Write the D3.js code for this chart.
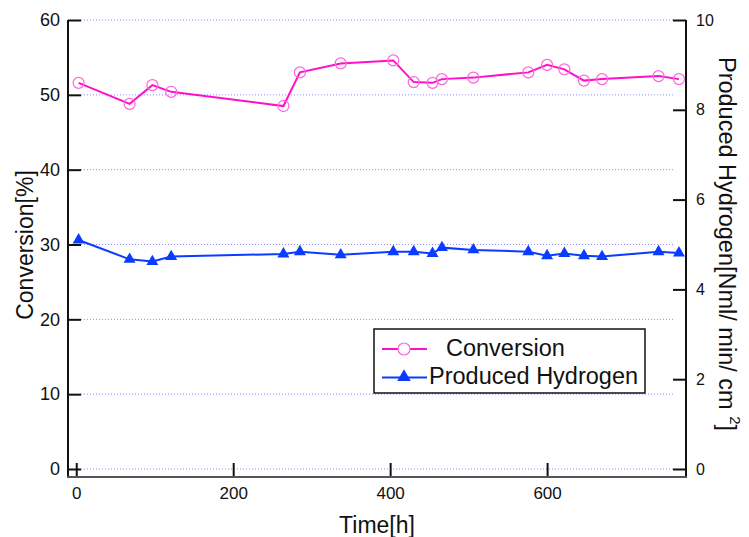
<!DOCTYPE html>
<html>
<head>
<meta charset="utf-8">
<script src="https://cdn.jsdelivr.net/npm/d3@7"></script>
<style>
  body { margin: 0; background: #fff; }
  text { font-family: "Liberation Sans", Arial, sans-serif; fill: #111; }
</style>
</head>
<body>
<div id="chart"></div>
<script>
// data
var hours = [3, 68, 97, 121, 264, 285, 337, 404, 430, 454, 466, 506, 576, 600, 622, 647, 670, 742, 768];
var conversion = [51.6, 48.8, 51.3, 50.4, 48.5, 53.0, 54.2, 54.6, 51.7, 51.6, 52.1, 52.3, 53.0, 54.0, 53.4, 51.9, 52.1, 52.5, 52.1];
var hydrogen = [5.10, 4.67, 4.62, 4.73, 4.79, 4.84, 4.77, 4.84, 4.84, 4.80, 4.93, 4.88, 4.84, 4.75, 4.80, 4.75, 4.73, 4.84, 4.81];
var xTicks = [0, 200, 400, 600];
var leftTicks = [0, 10, 20, 30, 40, 50, 60];
var rightTicks = [0, 2, 4, 6, 8, 10];

var width = 749, height = 537;
var pink = "#ff10c8", pinkLight = "#ff66dd", blue = "#0a3cff";

var svg = d3.select("#chart").append("svg")
    .attr("width", width)
    .attr("height", height);

// scales (plot box 68..686 x 20..477)
var x = d3.scaleLinear().domain([-10.5, 777]).range([68, 686]);
var yL = d3.scaleLinear().domain([-1.07, 60]).range([477, 20]);
var yR = d3.scaleLinear().domain([-1.07 / 6, 10]).range([477, 20]);

// dotted grid on the left ticks
svg.append("g").selectAll("line")
    .data(leftTicks)
    .join("line")
    .attr("x1", 81).attr("x2", 673)
    .attr("y1", function(d) { return yL(d); })
    .attr("y2", function(d) { return yL(d); })
    .attr("stroke", "#8c8cff")
    .attr("stroke-width", 1)
    .attr("stroke-dasharray", "1,2");

// left axis
var leftAxis = svg.append("g")
    .attr("transform", "translate(68,0)")
    .call(d3.axisLeft(yL).tickValues(leftTicks).tickSizeInner(-13).tickSizeOuter(0));
leftAxis.select(".domain").remove();
leftAxis.selectAll(".tick line").attr("stroke", "#111").attr("stroke-width", 2);
leftAxis.selectAll("text").attr("font-size", 18).attr("x", -8).attr("font-family", "Liberation Sans");

// right axis
var rightAxis = svg.append("g")
    .attr("transform", "translate(686,0)")
    .call(d3.axisRight(yR).tickValues(rightTicks).tickSizeInner(-13).tickSizeOuter(0));
rightAxis.select(".domain").remove();
rightAxis.selectAll(".tick line").attr("stroke", "#111").attr("stroke-width", 2);
rightAxis.selectAll("text").attr("font-size", 16).attr("x", 10).attr("font-family", "Liberation Sans");

// bottom axis
var bottomAxis = svg.append("g")
    .attr("transform", "translate(0,477)")
    .call(d3.axisBottom(x).tickValues(xTicks).tickSizeInner(-14).tickSizeOuter(0));
bottomAxis.select(".domain").remove();
bottomAxis.selectAll(".tick line").attr("stroke", "#111").attr("stroke-width", 2);
bottomAxis.selectAll("text").attr("font-size", 17).attr("y", 10).attr("dy", "0.71em").attr("font-family", "Liberation Sans");

// frame lines (no top)
svg.append("line").attr("x1", 68).attr("x2", 68).attr("y1", 20).attr("y2", 478)
    .attr("stroke", "#111").attr("stroke-width", 2);
svg.append("line").attr("x1", 686).attr("x2", 686).attr("y1", 20).attr("y2", 478)
    .attr("stroke", "#111").attr("stroke-width", 2);
svg.append("line").attr("x1", 67).attr("x2", 687).attr("y1", 477).attr("y2", 477)
    .attr("stroke", "#555").attr("stroke-width", 2);

// conversion series
var convLine = d3.line()
    .x(function(d, i) { return x(hours[i]); })
    .y(function(d) { return yL(d); });
svg.append("path")
    .datum(conversion)
    .attr("d", convLine)
    .attr("fill", "none")
    .attr("stroke", pink)
    .attr("stroke-width", 2);
svg.append("g").selectAll("circle")
    .data(conversion)
    .join("circle")
    .attr("cx", function(d, i) { return x(hours[i]); })
    .attr("cy", function(d) { return yL(d); })
    .attr("r", 5.5)
    .attr("fill", "none")
    .attr("stroke", pinkLight)
    .attr("stroke-width", 1.2);

// hydrogen series
var h2Line = d3.line()
    .x(function(d, i) { return x(hours[i]); })
    .y(function(d) { return yR(d); });
svg.append("path")
    .datum(hydrogen)
    .attr("d", h2Line)
    .attr("fill", "none")
    .attr("stroke", blue)
    .attr("stroke-width", 2);
var tri = d3.symbol().type(d3.symbolTriangle).size(62);
svg.append("g").selectAll("path")
    .data(hydrogen)
    .join("path")
    .attr("d", tri)
    .attr("transform", function(d, i) { return "translate(" + x(hours[i]) + "," + yR(d) + ")"; })
    .attr("fill", blue);

// legend
var lg = svg.append("g");
lg.append("rect")
    .attr("x", 374).attr("y", 329).attr("width", 271).attr("height", 64)
    .attr("fill", "#fff").attr("stroke", "#111").attr("stroke-width", 1.5);
lg.append("line").attr("x1", 382).attr("x2", 427).attr("y1", 349).attr("y2", 349)
    .attr("stroke", pink).attr("stroke-width", 2);
lg.append("circle").attr("cx", 404).attr("cy", 349).attr("r", 6)
    .attr("fill", "#fff").attr("stroke", pinkLight).attr("stroke-width", 1.2);
lg.append("line").attr("x1", 382).attr("x2", 427).attr("y1", 377.5).attr("y2", 377.5)
    .attr("stroke", blue).attr("stroke-width", 2);
lg.append("path").attr("d", d3.symbol().type(d3.symbolTriangle).size(80))
    .attr("transform", "translate(404,377)").attr("fill", blue);
lg.append("text").attr("x", 446).attr("y", 356).attr("font-size", 23.5).text("Conversion");
lg.append("text").attr("x", 429).attr("y", 383.5).attr("font-size", 23.5).text("Produced Hydrogen");

// axis titles
svg.append("text")
    .attr("x", 377).attr("y", 533)
    .attr("text-anchor", "middle")
    .attr("font-size", 23)
    .text("Time[h]");
svg.append("text")
    .attr("transform", "translate(33,245) rotate(-90)")
    .attr("text-anchor", "middle")
    .attr("font-size", 23)
    .text("Conversion[%]");
var rt = svg.append("text")
    .attr("transform", "translate(719,244) rotate(90)")
    .attr("text-anchor", "middle")
    .attr("font-size", 23.5);
rt.append("tspan").text("Produced Hydrogen[Nml/ min/ cm ");
rt.append("tspan").attr("dy", -11).attr("font-size", 15).text("2");
rt.append("tspan").attr("dy", 11).text("]");
</script>
</body>
</html>
